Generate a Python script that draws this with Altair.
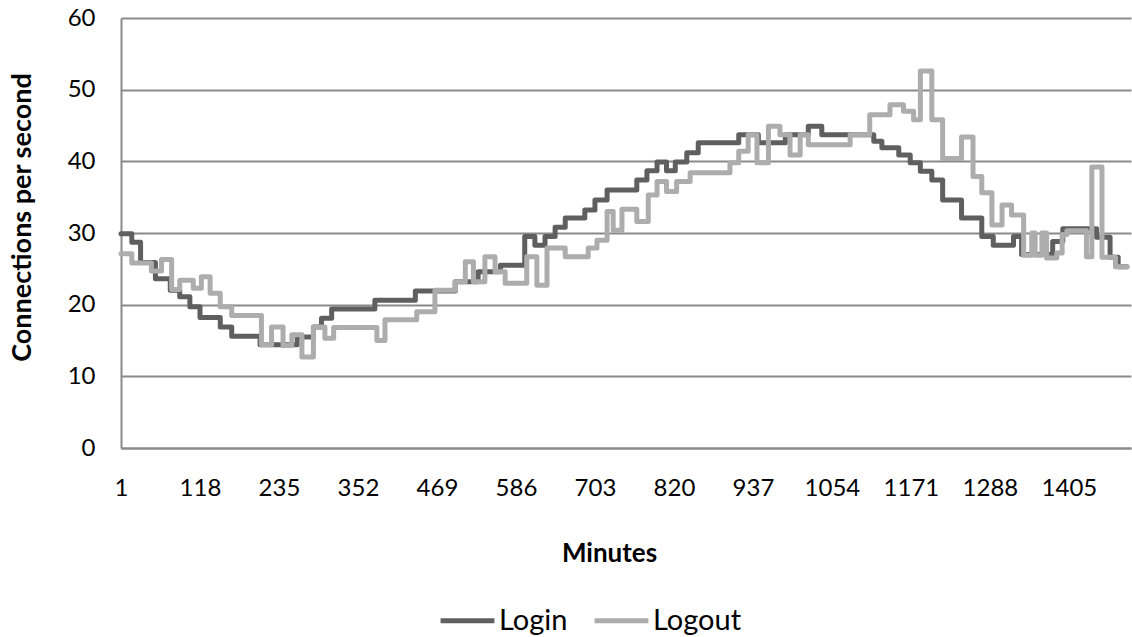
import altair as alt
import pandas as pd

# Step breakpoints: minute at which each new level starts, and the level
login_min = [1, 17, 30, 52, 74, 88, 103, 118, 148, 165, 207, 262, 286, 298, 313,
             377, 437, 496, 530, 563, 599, 614, 629, 644, 659, 688, 703, 721,
             765, 780, 795, 809, 822, 839, 856, 916, 945, 985, 1019, 1039, 1116,
             1128, 1153, 1170, 1185, 1202, 1218, 1246, 1276, 1293, 1323, 1335,
             1381, 1396, 1446, 1466, 1478, 1491]
login_val = [29.9, 28.7, 25.9, 23.6, 22.0, 21.1, 19.7, 18.2, 16.9, 15.6, 14.4,
             15.5, 16.9, 18.1, 19.4, 20.6, 21.9, 23.2, 24.6, 25.5, 29.5, 28.3,
             29.5, 30.8, 32.1, 33.2, 34.6, 36.0, 37.4, 38.7, 39.9, 38.7, 39.9,
             41.2, 42.6, 43.7, 42.6, 43.7, 44.9, 43.7, 42.8, 41.9, 40.9, 39.8,
             38.6, 37.4, 34.6, 32.1, 29.5, 28.3, 29.5, 27.0, 28.8, 30.6, 29.4,
             26.6, 25.3, 25.3]

logout_min = [1, 17, 46, 61, 76, 88, 108, 120, 133, 148, 165, 209, 224, 241,
              254, 269, 286, 303, 316, 380, 392, 439, 466, 496, 511, 523, 540,
              555, 570, 602, 617, 632, 659, 693, 706, 721, 730, 743, 765, 782,
              795, 809, 824, 844, 903, 916, 930, 943, 960, 977, 992, 1007, 1019,
              1081, 1110, 1140, 1160, 1175, 1185, 1202, 1218, 1246, 1263, 1276,
              1291, 1306, 1320, 1338, 1350, 1355, 1365, 1372, 1387, 1395, 1402,
              1431, 1439, 1454, 1474, 1491]
logout_val = [27.1, 25.8, 24.7, 26.3, 22.1, 23.4, 22.3, 23.9, 21.6, 19.7, 18.5,
              14.4, 16.9, 14.3, 15.8, 12.7, 16.9, 15.3, 16.8, 15.0, 17.9, 19.0,
              22.0, 23.2, 26.0, 23.2, 26.7, 24.6, 23.0, 26.7, 22.7, 27.9, 26.7,
              27.9, 29.0, 33.0, 30.4, 33.3, 31.6, 35.3, 37.2, 35.8, 37.2, 38.4,
              39.8, 41.4, 43.7, 39.8, 44.9, 43.7, 40.9, 43.7, 42.3, 43.7, 46.5,
              47.9, 47.0, 45.8, 52.6, 45.8, 40.4, 43.4, 37.9, 35.6, 31.1, 33.9,
              32.5, 26.9, 30.0, 26.9, 30.0, 26.5, 27.2, 29.8, 30.3, 26.7, 39.2,
              26.6, 25.3, 25.3]

x_ticks = [1, 118, 235, 352, 469, 586, 703, 820, 937, 1054, 1171, 1288, 1405]
y_ticks = [0, 10, 20, 30, 40, 50, 60]

df = pd.concat([
    pd.DataFrame({"minute": login_min, "value": login_val, "series": "Login"}),
    pd.DataFrame({"minute": logout_min, "value": logout_val, "series": "Logout"}),
])

FONT = "Lato"
GRID = "#8a8a8a"

chart = alt.Chart(df).mark_line(
    interpolate="step-after", strokeWidth=5, strokeJoin="round", strokeCap="round"
).encode(
    x=alt.X("minute:Q",
            scale=alt.Scale(domain=[1, 1497], nice=False, zero=False),
            axis=alt.Axis(values=x_ticks, format="d", grid=False, ticks=False,
                          labelFlush=False, labelFontSize=24, labelPadding=28,
                          labelColor="#000000", domainColor=GRID, domainWidth=2,
                          title="Minutes", titleFontSize=26, titleFontWeight="bold",
                          titleColor="#000000", titleX=488, titleY=105,
                          titleBaseline="middle", titleAlign="center")),
    y=alt.Y("value:Q",
            scale=alt.Scale(domain=[0, 60], nice=False),
            axis=alt.Axis(values=y_ticks, grid=True, gridColor=GRID, gridWidth=2,
                          ticks=False, labelFontSize=24, labelPadding=26,
                          labelColor="#000000", domainColor=GRID, domainWidth=2,
                          title="Connections per second", titleFontSize=27,
                          titleFontWeight="bold", titleColor="#000000",
                          titleX=-99, titleY=199, titleAngle=-90,
                          titleAlign="center", titleBaseline="middle")),
    color=alt.Color("series:N",
                    scale=alt.Scale(domain=["Login", "Logout"],
                                    range=["#5f5f5f", "#adadad"]),
                    legend=alt.Legend(title=None, orient="none", legendX=317,
                                      legendY=573, direction="horizontal",
                                      symbolType="stroke", symbolSize=2900,
                                      symbolStrokeWidth=5, labelFontSize=29,
                                      labelOffset=2, columnPadding=16,
                                      labelColor="#000000")),
).properties(
    width=1010,
    height=430,
    autosize=alt.AutoSizeParams(type="none"),
    padding={"left": 121, "top": 18, "right": 1, "bottom": 189},
).configure(
    font=FONT,
    background="white",
).configure_view(
    stroke=None,
)

chart.save("out.html", embed_options={"renderer": "svg", "actions": False})
